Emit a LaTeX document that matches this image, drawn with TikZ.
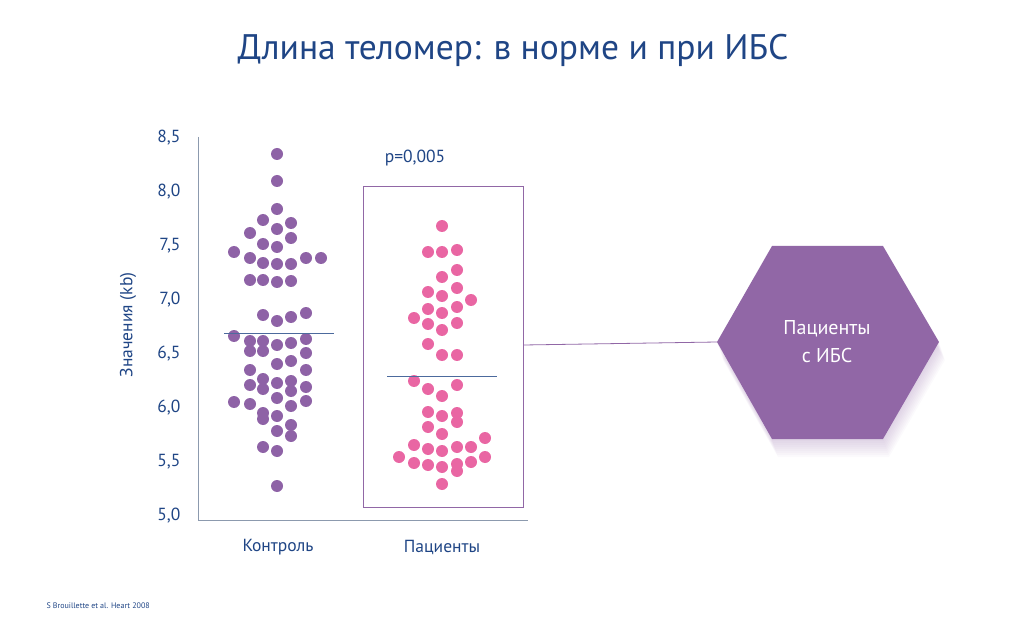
\documentclass[tikz,border=0pt]{standalone}
\usepackage{fontspec}
\setmainfont{PT Sans}
\usepackage{xcolor}
\usetikzlibrary{shapes.geometric}
\definecolor{titleblue}{HTML}{1F4585}
\definecolor{ctrl}{HTML}{8E62A6}
\definecolor{pat}{HTML}{E966A3}
\definecolor{hexfill}{HTML}{9167A6}
\definecolor{axisgray}{HTML}{8C9AAE}
\tikzset{
  cdot/.style = {fill = ctrl, draw = none},
  pdot/.style = {fill = pat, draw = none},
  lbl/.style = {text = titleblue, font = \fontsize{17.5}{20}\selectfont},
  meanline/.style = {draw = titleblue!80, line width = 1pt}
}
\newcommand{\hexpath}{(717, 342) -- (772, 246) -- (883, 246) -- (939, 342) -- (883, 439) -- (772, 439) -- cycle}
\begin{document}
\begin{tikzpicture}[x=1pt, y=-1pt]
\useasboundingbox (0, 0) rectangle (1025, 628);

\node[text = titleblue, font = \fontsize{35.5}{38}\selectfont] (title) at (513, 50) {Длина теломер: в норме и при ИБС};

% axes
\draw[axisgray, line width = 0.8pt] (198, 137) -- (198, 520) -- (528, 520);
\foreach \v [count = \i from 0] in {{5,0}, {5,5}, {6,0}, {6,5}, {7,0}, {7,5}, {8,0}, {8,5}}
  \node[lbl, anchor = east] (tick\i) at (184, 516 - \i*54.1) {\v};
\node[lbl, rotate = 90] (ylab) at (128, 325) {Значения (kb)};
\node[lbl] (xctrl) at (278, 547) {Контроль};
\node[lbl] (xpat) at (442, 547) {Пациенты};
\node[lbl] (pval) at (415, 158) {p=0,005};

% control
\foreach \x/\y in {277/154, 277/181, 277/209, 263/220, 291/223, 250/233, 277/229,
  263/244, 291/238, 277/247, 234/252, 250/258, 263/263, 277/264, 291/264, 306/258,
  321/258, 250/280, 263/280, 277/282, 291/281, 263/315, 277/321, 291/317, 306/313,
  234/336, 250/341, 263/341, 277/345, 291/343, 306/339, 250/351, 263/351, 306/353,
  277/364, 291/361, 250/370, 306/370, 263/379, 277/383, 291/381, 250/385, 263/389,
  291/391, 306/387, 234/402, 250/404, 277/398, 306/401, 291/406, 263/413, 263/419,
  277/416, 291/425, 277/431, 291/436, 263/447, 277/451, 277/486}
  \fill[cdot] (\x, \y) circle (6);
\draw[meanline] (224, 333) -- (334, 333);

% patients
\node[draw = hexfill, line width = 0.8pt, minimum width = 160, minimum height = 321,
  inner sep = 0] (box) at (443, 346.5) {};
\foreach \x/\y in {442/226, 428/252, 442/252, 457/250, 457/270, 442/277, 428/292,
  457/288, 442/296, 471/300, 428/309, 457/307, 442/313, 414/318, 428/324, 457/323,
  442/330, 428/344, 442/355, 457/355, 414/381, 428/389, 457/385, 442/396, 428/412,
  442/416, 457/413, 457/422, 428/427, 442/434, 485/438, 414/445, 428/449, 442/451,
  457/447, 471/447, 399/457, 485/457, 414/463, 428/465, 442/467, 457/464, 457/471,
  471/462, 442/484}
  \fill[pdot] (\x, \y) circle (6);
\draw[meanline] (387, 376) -- (497, 376);

% hexagon
\foreach \s in {2,4,...,18}
  \fill[hexfill, opacity = 0.035, shift = {(\s/3, \s)}] \hexpath;
\fill[hexfill] \hexpath;
\coordinate (hexleft) at (717, 342);
\node[text = white, align = center, font = \fontsize{20}{28}\selectfont] (hextext) at (827, 342) {Пациенты\\с ИБС};
\draw[hexfill, line width = 0.8pt] (box.east |- 0, 345) -- (hexleft);

\node[text = titleblue, anchor = west, font = \fontsize{8}{9}\selectfont] (src) at (43, 606) {S Brouillette et al. Heart 2008};
\end{tikzpicture}
\end{document}
